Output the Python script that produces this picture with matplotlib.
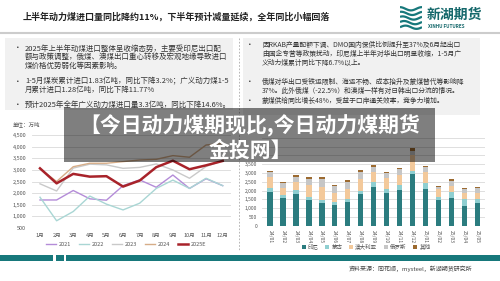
import numpy as np
import matplotlib
matplotlib.use("Agg")
import matplotlib.pyplot as plt
from matplotlib.patches import Rectangle
from matplotlib.lines import Line2D

plt.rcParams["font.family"] = ["Noto Sans CJK SC", "DejaVu Sans"]

# --- données ---
months = [f"{i}月" for i in range(1, 13)]
imp_2021 = [1700, 1700, 2110, 1750, 1690, 2320, 2570, 2250, 2780, 2200, 2620, 2320]
imp_2022 = [1820, 800, 1200, 1870, 1520, 1270, 1560, 2200, 2560, 2200, 2640, 2320]
imp_2023 = [2400, 2090, 3080, 3250, 3220, 3070, 3110, 3260, 3000, 2640, 3150, 3400]
imp_2024 = [3050, 2500, 3140, 3290, 3290, 3360, 3430, 3460, 3620, 3550, 4080, 4150]
imp_2025e = [3070, 2420, 2830, 2710, 2730, 2280, 2540, 3120, 3400, 3030, 3200, 3390]
line_names = ["2021", "2022", "2023", "2024", "2025E"]

bar_labels = ["24/01", "24/02", "24/03", "24/04", "24/05", "24/06", "24/07", "24/08",
              "24/09", "24/10", "24/11", "24/12", "25/01", "25/02", "25/03", "25/04", "25/05"]
indonesia = [1930, 1550, 1820, 1460, 1290, 1190, 1360, 1780, 2180, 1870, 2030, 2920, 2060, 1440, 1550, 1140, 1270]
mongolia = [210, 170, 190, 190, 190, 170, 170, 210, 300, 210, 280, 160, 340, 210, 340, 360, 245]
australia = [640, 400, 490, 680, 720, 470, 570, 680, 570, 630, 570, 930, 625, 455, 380, 380, 360]
russia = [270, 285, 285, 300, 455, 440, 400, 400, 300, 280, 320, 250, 285, 75, 285, 210, 265]
others = [50, 75, 95, 130, 110, 60, 75, 95, 115, 50, 75, 130, 75, 55, 75, 55, 55]
bar_names = ["印尼", "蒙古", "澳大利亚", "俄罗斯", "其他"]

left_text = [
    ["2025年上半年动煤进口整体呈收缩态势，主要受印尼出口配",
     "额与政策调整，俄煤、澳煤出口重心转移及宏观地缘导致进口",
     "煤价格优势弱化等因素影响。"],
    ["1-5月煤炭累计进口1.83亿吨，同比下降3.2%；广义动力煤1-5",
     "月累计进口1.28亿吨，同比下降11.77%"],
    ["预计2025年全年广义动力煤进口量3.3亿吨，同比下降14.6%。"],
]
right_text = [
    ["因RKAB产量配额下调、DMO国内保供比例提升至37%及6月起出口",
     "由国企专营等政策扰动，印尼煤上半年对华出口明显收缩，1-5月广",
     "义动力煤累计同比下降6.7%以上。"],
    ["俄煤对华出口受铁运限制、海运不畅、成本抬升及蒙煤替代等影响降",
     "37%。此外俄煤（-22.5%）和澳煤一样有对日韩出口分流的情况。"],
    ["蒙煤供给同比增长48%，受益于口岸通关效率，竞争力增加。"],
]

W, H = 500, 281
TEAL = "#17787b"


def fx(x):
    return x / W


def fy(y):
    return 1 - y / H


def rect(x0, y0, x1, y1):
    return [fx(x0), fy(y1), (x1 - x0) / W, (y1 - y0) / H]


fig = plt.figure(figsize=(5, 2.81), dpi=100)
fig.patch.set_facecolor("white")

# en-tete
fig.text(fx(23), fy(17), "上半年动力煤进口量同比降约11%，下半年预计减量延续，全年同比小幅回落",
         fontsize=6.5, weight="bold", va="center", color="#222222")
fig.add_artist(Line2D([0, 1], [fy(33), fy(33)], color="#cccccc", lw=1.5))

logo = fig.add_axes(rect(400, 6, 422, 30))
logo.axis("off")
t = np.linspace(0, 2 * np.pi, 60)
for k in range(5):
    logo.plot(t, k + 0.35 * np.sin(t + k * 0.4), color=TEAL, lw=1.6, solid_capstyle="butt")
logo.set_xlim(0, 2 * np.pi)
logo.set_ylim(-0.6, 4.6)
fig.text(fx(427), fy(15), "新湖期货", fontsize=10, weight="bold", color="#15686b", va="center")
fig.text(fx(428), fy(26.5), "XINHU FUTURES", fontsize=3.3, weight="bold", color="#15686b", va="center")

# blocs de texte
fig.add_artist(Rectangle((fx(5), fy(110)), (233 - 5) / W, (110 - 38) / H,
                         transform=fig.transFigure, color="#f1f1f1", lw=0))
fig.add_artist(Rectangle((fx(243), fy(115)), (480 - 243) / W, (115 - 38) / H,
                         transform=fig.transFigure, color="#f1f1f1", lw=0))
fig.add_artist(Line2D([fx(239), fx(239)], [fy(38), fy(250)], color="#aaaaaa", lw=0.6, ls=(0, (2, 2))))


def draw_bullets(blocks, x_dot, x_text, y_starts, size):
    for lines, y0 in zip(blocks, y_starts):
        fig.text(fx(x_dot), fy(y0), "•", fontsize=5.5, va="center", color="#333333")
        for i, line in enumerate(lines):
            fig.text(fx(x_text), fy(y0 + i * 8.8), line, fontsize=size, va="center", color="#333333")


draw_bullets(left_text, 14, 25, [48.5, 81.5, 105], 5.4)
draw_bullets(right_text, 246, 262, [45, 82.3, 100.7], 4.9)

# graphique de gauche : lignes
ax1 = fig.add_axes(rect(31.7, 135.3, 231, 227.7))
x = np.arange(12)
line_styles = [("#b48cd8", 1.0), ("#a9d6d4", 1.0), ("#c9c9c9", 1.0), ("#d6ad88", 1.0), ("#a8232a", 1.8)]
for vals, name, (c, lw) in zip([imp_2021, imp_2022, imp_2023, imp_2024, imp_2025e], line_names, line_styles):
    ax1.plot(x, vals, color=c, lw=lw, label=name)
ax1.set_xlim(-0.5, 11.5)
ax1.set_ylim(500, 4500)
ax1.set_yticks(range(500, 5000, 500))
ax1.set_yticklabels([f"{v:,}" for v in range(500, 5000, 500)])
ax1.set_xticks(x)
ax1.set_xticklabels(months)
ax1.grid(axis="y", color="#d9d9d9", lw=0.6)
ax1.set_axisbelow(True)
for s in ax1.spines.values():
    s.set_visible(False)
ax1.tick_params(length=0, labelsize=4, colors="#555555", pad=4)
fig.text(fx(13), fy(124), "单位：万吨", fontsize=4, va="center", color="#555555")
ax1.legend(loc="center", bbox_to_anchor=(fx(126), fy(244)), bbox_transform=fig.transFigure,
           ncol=5, frameon=False, fontsize=4, handlelength=1.8, columnspacing=1.4, handletextpad=0.5,
           labelcolor="#555555")

# graphique de droite : barres empilees
ax2 = fig.add_axes(rect(261.6, 137.7, 485, 225.7))
xb = np.arange(len(bar_labels))
bottom = np.zeros(len(bar_labels))
bar_colors = ["#2b7c7f", "#8fcfd1", "#f3c99b", "#c6c6c6", "#9c6a30"]
for vals, name, c in zip([indonesia, mongolia, australia, russia, others], bar_names, bar_colors):
    ax2.bar(xb, vals, bottom=bottom, width=0.42, color=c, label=name)
    bottom += np.array(vals)
ax2.set_xlim(-0.65, 16.6)
ax2.set_ylim(0, 5000)
ax2.set_yticks(range(0, 5500, 500))
# les etiquettes au-dessus de 3 500 sont cachees par le bandeau
ax2.set_yticklabels([f"{v:,}" if v <= 3500 else "" for v in range(0, 5500, 500)])
ax2.set_xticks(xb)
ax2.set_xticklabels(bar_labels, rotation=270)
ax2.grid(axis="y", color="#d9d9d9", lw=0.6)
ax2.set_axisbelow(True)
for s in ax2.spines.values():
    s.set_visible(False)
ax2.tick_params(length=0, labelsize=3.6, colors="#555555", pad=3)
ax2.legend(loc="center", bbox_to_anchor=(fx(366), fy(247)), bbox_transform=fig.transFigure,
           ncol=5, frameon=False, fontsize=4, handlelength=0.7, handleheight=0.7,
           columnspacing=1.2, handletextpad=0.4, labelcolor="#555555")

# pied de page
for a, b in [(0, 53), (56, 64), (66, 500)]:
    fig.add_artist(Rectangle((fx(a), fy(261)), (b - a) / W, 6 / H,
                             transform=fig.transFigure, color=TEAL, lw=0))
fig.text(fx(472), fy(268.5), "资料来源：同花顺，mysteel，新湖期货研究所", fontsize=4.3,
         ha="right", va="center", color="#444444")

# bandeau superpose
fig.add_artist(Rectangle((fx(64), fy(162)), (435 - 64) / W, (162 - 108) / H,
                         transform=fig.transFigure, color="black", alpha=0.5, lw=0, zorder=10))
fig.text(fx(250), fy(126), "【今日动力煤期现比,今日动力煤期货", fontsize=15, weight="bold",
         color="white", ha="center", va="center", zorder=11)
fig.text(fx(250), fy(150), "金投网】", fontsize=15, weight="bold",
         color="white", ha="center", va="center", zorder=11)

fig.savefig("out.png", dpi=100)
